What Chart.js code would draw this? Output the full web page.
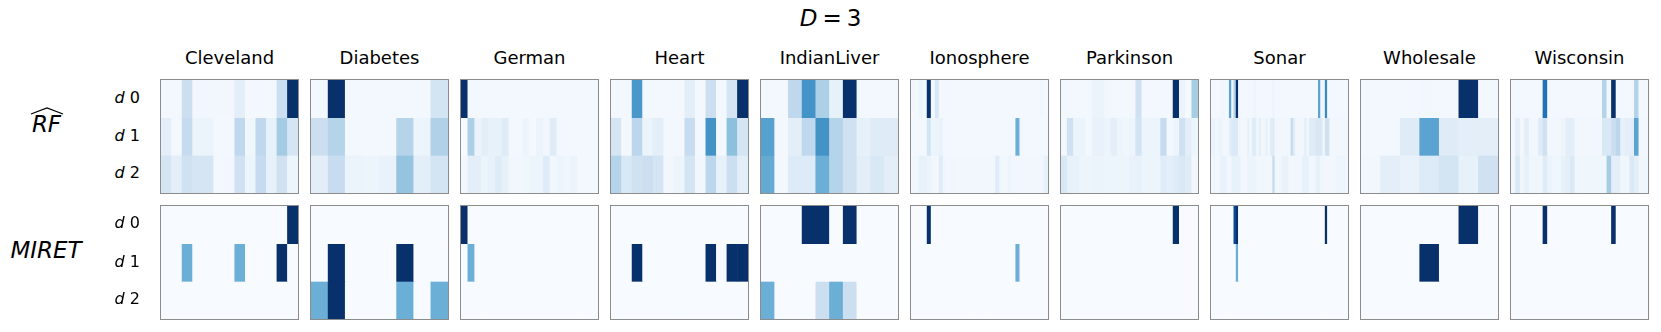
<!DOCTYPE html>
<html><head><meta charset="utf-8">
<script src="https://cdn.jsdelivr.net/npm/chart.js@4.4.0/dist/chart.umd.min.js"></script>
<style>
html,body{margin:0;padding:0;background:#fff}
body{width:1661px;height:332px;position:relative;overflow:hidden;font-family:"DejaVu Sans",sans-serif;color:#000}
.t{position:absolute;white-space:nowrap;line-height:1}
.frame{position:absolute;box-sizing:border-box;border:1.5px solid #8c8c8c;pointer-events:none}
canvas{position:absolute;display:block}
</style></head><body>
<script>
// ---------------- data ----------------
const figTitle = 'D = 3';
const datasetNames = ['Cleveland','Diabetes','German','Heart','IndianLiver','Ionosphere','Parkinson','Sonar','Wholesale','Wisconsin'];
const methodNames = ['RF', 'MIRET'];
const rowLabels = ['0','1','2'];   // depth d 0, d 1, d 2

// rows: [d0, d1, d2]; values 0..1 (Blues colour scale)
const clevelandRF = [
  [0.02,0.02,0.22,0.03,0.03,0.03,0.03,0.10,0.02,0.02,0.02,0.22,1.00],
  [0.10,0.02,0.25,0.06,0.06,0.02,0.02,0.27,0.04,0.27,0.08,0.36,0.17],
  [0.17,0.10,0.20,0.17,0.17,0.02,0.03,0.20,0.05,0.25,0.08,0.20,0.05]];
const clevelandMIRET = [
  [0,0,0,0,0,0,0,0,0,0,0,0,1],
  [0,0,0.5,0,0,0,0,0.5,0,0,0,1,0],
  [0,0,0,0,0,0,0,0,0,0,0,0,0]];

const diabetesRF = [
  [0.02,1.00,0.02,0.02,0.02,0.02,0.02,0.18],
  [0.22,0.30,0.02,0.02,0.02,0.30,0.05,0.32],
  [0.10,0.24,0.06,0.05,0.07,0.40,0.10,0.18]];
const diabetesMIRET = [
  [0,0,0,0,0,0,0,0],
  [0,1,0,0,0,1,0,0],
  [0.5,1,0,0,0,0.5,0,0.5]];

const germanRF = [
  [1.00,0.02,0.02,0.02,0.02,0.02,0.02,0.02,0.02,0.02,0.02,0.02,0.02,0.02,0.02,0.02,0.02,0.02,0.02,0.02],
  [0.00,0.33,0.06,0.10,0.08,0.08,0.12,0.02,0.02,0.05,0.02,0.06,0.03,0.12,0.02,0.02,0.02,0.02,0.02,0.02],
  [0.03,0.10,0.10,0.06,0.08,0.12,0.08,0.03,0.03,0.04,0.05,0.05,0.12,0.03,0.05,0.04,0.06,0.02,0.02,0.02]];
const germanMIRET = [
  [1,0,0,0,0,0,0,0,0,0,0,0,0,0,0,0,0,0,0,0],
  [0,0.5,0,0,0,0,0,0,0,0,0,0,0,0,0,0,0,0,0,0],
  [0,0,0,0,0,0,0,0,0,0,0,0,0,0,0,0,0,0,0,0]];

const heartRF = [
  [0.02,0.02,0.60,0.02,0.02,0.02,0.02,0.10,0.02,0.22,0.02,0.17,1.00],
  [0.17,0.02,0.28,0.06,0.10,0.02,0.02,0.24,0.02,0.62,0.02,0.42,0.17],
  [0.30,0.15,0.20,0.22,0.18,0.03,0.05,0.18,0.03,0.28,0.08,0.22,0.10]];
const heartMIRET = [
  [0,0,0,0,0,0,0,0,0,0,0,0,0],
  [0,0,1,0,0,0,0,0,0,1,0,1,1],
  [0,0,0,0,0,0,0,0,0,0,0,0,0]];

const indianLiverRF = [
  [0.02,0.02,0.27,0.62,0.33,0.08,1.00,0.02,0.02,0.02],
  [0.56,0.02,0.10,0.27,0.62,0.30,0.20,0.08,0.12,0.12],
  [0.52,0.02,0.13,0.13,0.50,0.30,0.20,0.10,0.15,0.10]];
const indianLiverMIRET = [
  [0,0,0,1,1,0,1,0,0,0],
  [0,0,0,0,0,0,0,0,0,0],
  [0.5,0,0,0,0.22,0.5,0.22,0,0,0]];

const ionosphereRF = [
  [0.02,0.02,0.06,0.02,1.00,0.02,0.15,0.02,0.02,0.02,0.02,0.02,0.02,0.02,0.02,0.02,0.02,0.02,0.02,0.02,0.02,0.02,0.02,0.02,0.02,0.02,0.02,0.02,0.02,0.02,0.02,0.02,0.04,0.02],
  [0.02,0.02,0.02,0.02,0.18,0.05,0.06,0.07,0.02,0.02,0.02,0.02,0.02,0.02,0.02,0.02,0.02,0.02,0.02,0.02,0.02,0.02,0.02,0.02,0.02,0.02,0.50,0.03,0.02,0.02,0.02,0.02,0.02,0.02],
  [0.03,0.04,0.08,0.08,0.06,0.03,0.03,0.12,0.04,0.03,0.04,0.03,0.03,0.03,0.03,0.03,0.03,0.03,0.03,0.03,0.03,0.12,0.04,0.03,0.05,0.03,0.03,0.03,0.03,0.03,0.03,0.03,0.03,0.08]];
const ionosphereMIRET = [
  [0,0,0,0,1,0,0,0,0,0,0,0,0,0,0,0,0,0,0,0,0,0,0,0,0,0,0,0,0,0,0,0,0,0],
  [0,0,0,0,0,0,0,0,0,0,0,0,0,0,0,0,0,0,0,0,0,0,0,0,0,0,0.5,0,0,0,0,0,0,0],
  [0,0,0,0,0,0,0,0,0,0,0,0,0,0,0,0,0,0,0,0,0,0,0,0,0,0,0,0,0,0,0,0,0,0]];

const parkinsonRF = [
  [0.02,0.02,0.02,0.02,0.02,0.06,0.06,0.03,0.02,0.02,0.02,0.02,0.20,0.02,0.02,0.02,0.02,0.02,1.00,0.06,0.01,0.35],
  [0.02,0.20,0.06,0.06,0.02,0.07,0.07,0.05,0.10,0.05,0.04,0.05,0.18,0.05,0.05,0.05,0.25,0.02,0.05,0.20,0.10,0.05],
  [0.15,0.08,0.08,0.05,0.05,0.06,0.06,0.05,0.05,0.05,0.05,0.07,0.08,0.05,0.05,0.05,0.12,0.10,0.12,0.15,0.12,0.03]];
const parkinsonMIRET = [
  [0,0,0,0,0,0,0,0,0,0,0,0,0,0,0,0,0,0,1,0,0,0],
  [0,0,0,0,0,0,0,0,0,0,0,0,0,0,0,0,0,0,0,0,0,0],
  [0,0,0,0,0,0,0,0,0,0,0,0,0,0,0,0,0,0,0,0,0,0]];

const sonarRF = [
  [0.02,0.02,0.02,0.02,0.03,0.04,0.02,0.02,0.55,0.03,0.30,1.00,0.03,0.02,0.02,0.02,0.02,0.02,0.03,0.05,
   0.02,0.02,0.02,0.02,0.02,0.02,0.02,0.05,0.02,0.02,0.02,0.02,0.02,0.02,0.02,0.02,0.02,0.02,0.02,0.02,
   0.02,0.02,0.02,0.02,0.02,0.02,0.03,0.55,0.03,0.04,0.65,0.03,0.02,0.02,0.02,0.02,0.02,0.02,0.02,0.02],
  [0.06,0.06,0.03,0.05,0.05,0.03,0.03,0.03,0.10,0.14,0.14,0.14,0.03,0.03,0.03,0.03,0.08,0.03,0.12,0.12,
   0.03,0.10,0.03,0.03,0.08,0.03,0.12,0.12,0.03,0.03,0.03,0.03,0.03,0.03,0.03,0.25,0.12,0.03,0.03,0.03,
   0.03,0.10,0.03,0.12,0.12,0.12,0.15,0.15,0.15,0.03,0.20,0.20,0.03,0.03,0.03,0.03,0.03,0.03,0.03,0.03],
  [0.03,0.05,0.03,0.03,0.07,0.07,0.07,0.03,0.03,0.08,0.08,0.08,0.08,0.03,0.03,0.03,0.06,0.06,0.06,0.06,
   0.03,0.03,0.03,0.03,0.03,0.03,0.03,0.25,0.03,0.03,0.03,0.07,0.07,0.07,0.03,0.03,0.03,0.03,0.03,0.03,
   0.08,0.08,0.08,0.03,0.03,0.03,0.08,0.08,0.03,0.03,0.03,0.03,0.03,0.03,0.03,0.05,0.05,0.05,0.05,0.03]];
const sonarMIRET = [
  [0,0,0,0,0,0,0,0,0,0,0.9,1,0,0,0,0,0,0,0,0,0,0,0,0,0,0,0,0,0,0,0,0,0,0,0,0,0,0,0,0,0,0,0,0,0,0,0,0,0,0,1,0,0,0,0,0,0,0,0,0],
  [0,0,0,0,0,0,0,0,0,0,0,0.5,0,0,0,0,0,0,0,0,0,0,0,0,0,0,0,0,0,0,0,0,0,0,0,0,0,0,0,0,0,0,0,0,0,0,0,0,0,0,0,0,0,0,0,0,0,0,0,0],
  [0,0,0,0,0,0,0,0,0,0,0,0,0,0,0,0,0,0,0,0,0,0,0,0,0,0,0,0,0,0,0,0,0,0,0,0,0,0,0,0,0,0,0,0,0,0,0,0,0,0,0,0,0,0,0,0,0,0,0,0]];

const wholesaleRF = [
  [0.02,0.02,0.02,0.03,0.02,1.00,0.02],
  [0.02,0.02,0.12,0.55,0.12,0.10,0.10],
  [0.03,0.10,0.07,0.13,0.18,0.08,0.20]];
const wholesaleMIRET = [
  [0,0,0,0,0,1,0],
  [0,0,0,1,0,0,0],
  [0,0,0,0,0,0,0]];

const wisconsinRF = [
  [0.02,0.02,0.02,0.02,0.02,0.02,0.02,0.75,0.02,0.02,0.02,0.02,0.02,0.02,0.02,0.02,0.02,0.02,0.02,0.02,0.30,0.02,1.00,0.02,0.02,0.02,0.02,0.30,0.02,0.02],
  [0.03,0.10,0.03,0.10,0.03,0.03,0.12,0.20,0.03,0.03,0.03,0.05,0.10,0.10,0.03,0.03,0.03,0.03,0.03,0.03,0.15,0.15,0.22,0.28,0.08,0.10,0.10,0.55,0.03,0.03],
  [0.04,0.15,0.04,0.08,0.04,0.04,0.04,0.12,0.06,0.04,0.04,0.08,0.10,0.14,0.04,0.04,0.04,0.04,0.04,0.04,0.04,0.35,0.10,0.10,0.04,0.04,0.14,0.10,0.04,0.04]];
const wisconsinMIRET = [
  [0,0,0,0,0,0,0,1,0,0,0,0,0,0,0,0,0,0,0,0,0,0,1,0,0,0,0,0,0,0],
  [0,0,0,0,0,0,0,0,0,0,0,0,0,0,0,0,0,0,0,0,0,0,0,0,0,0,0,0,0,0],
  [0,0,0,0,0,0,0,0,0,0,0,0,0,0,0,0,0,0,0,0,0,0,0,0,0,0,0,0,0,0]];

const rfPanels = [clevelandRF, diabetesRF, germanRF, heartRF, indianLiverRF, ionosphereRF, parkinsonRF, sonarRF, wholesaleRF, wisconsinRF];
const miretPanels = [clevelandMIRET, diabetesMIRET, germanMIRET, heartMIRET, indianLiverMIRET, ionosphereMIRET, parkinsonMIRET, sonarMIRET, wholesaleMIRET, wisconsinMIRET];

// ---------------- colour scale (matplotlib Blues) ----------------
const bluesStops = ['#f7fbff','#deebf7','#c6dbef','#9ecae1','#6baed6','#4292c6','#2171b5','#08519c','#08306b'];
function hex2rgb(h){return [parseInt(h.slice(1,3),16),parseInt(h.slice(3,5),16),parseInt(h.slice(5,7),16)];}
const bluesRGB = bluesStops.map(hex2rgb);
function blues(v){
  v = Math.max(0, Math.min(1, v));
  const p = v * 8, i = Math.min(7, Math.floor(p)), f = p - i;
  const a = bluesRGB[i], b = bluesRGB[i+1];
  return 'rgb(' + a.map((c,k)=>Math.round(c + (b[k]-c)*f)).join(',') + ')';
}

// ---------------- layout ----------------
const PANEL_X0 = 160, PANEL_STEP = 150, PANEL_W = 139, PANEL_H = 115;
const ROW_TOPS = [79, 205];

function addText(html, x, baseline, fs, align, extra){
  const d = document.createElement('div');
  d.className = 't';
  d.innerHTML = html;
  d.style.fontSize = fs + 'px';
  d.style.left = x + 'px';
  d.style.top = (baseline - 0.846*fs) + 'px';
  if (align === 'center') d.style.transform = 'translateX(-50%)';
  else if (align === 'right') d.style.transform = 'translateX(-100%)';
  if (extra) Object.assign(d.style, extra);
  document.body.appendChild(d);
  return d;
}

function makePanel(vals, left, top){
  const cv = document.createElement('canvas');
  const w = PANEL_W - 2, h = PANEL_H - 2;
  cv.width = w; cv.height = h;
  cv.style.left = (left + 1) + 'px'; cv.style.top = (top + 1) + 'px';
  cv.style.width = w + 'px'; cv.style.height = h + 'px';
  document.body.appendChild(cv);
  const labels = vals[0].map((_, k) => 'f' + k);
  new Chart(cv, {
    type: 'bar',
    data: {
      labels,
      datasets: vals.map((row, r) => ({
        label: 'd ' + rowLabels[r],
        data: row.map(() => [2 - r, 3 - r]),
        backgroundColor: row.map(blues),
        borderWidth: 0,
        categoryPercentage: 1,
        barPercentage: 1
      }))
    },
    options: {
      responsive: false, animation: false, devicePixelRatio: 1,
      layout: { padding: 0 },
      plugins: { legend: { display: false }, tooltip: { enabled: false }, title: { display: false } },
      scales: {
        x: { display: false, stacked: true },
        y: { display: false, min: 0, max: 3 }
      }
    }
  });
  const fr = document.createElement('div');
  fr.className = 'frame';
  fr.style.left = left + 'px'; fr.style.top = top + 'px';
  fr.style.width = PANEL_W + 'px'; fr.style.height = PANEL_H + 'px';
  document.body.appendChild(fr);
}

// title
addText('<i>D</i><span style="margin:0 5px">=</span>3', 830.5, 26, 23, 'center');

datasetNames.forEach((name, i) => {
  const left = PANEL_X0 + PANEL_STEP * i;
  addText(name, left + PANEL_W/2, 64.3, 18, 'center');
  makePanel(rfPanels[i], left, ROW_TOPS[0]);
  makePanel(miretPanels[i], left, ROW_TOPS[1]);
});

// row labels
[[104,141.7,179],[229,267.7,305]].forEach(bs => {
  bs.forEach((b, r) => addText('<i>d</i>&nbsp;' + rowLabels[r], 140, b, 16, 'right'));
});

// method labels
addText('<i>' + methodNames[0] + '</i>', 46.5, 132, 23, 'center');
addText('<i>' + methodNames[1] + '</i>', 46, 258, 23, 'center');
// wide hat over RF
const svgNS = 'http://www.w3.org/2000/svg';
const svg = document.createElementNS(svgNS, 'svg');
svg.setAttribute('width', 36); svg.setAttribute('height', 10);
svg.style.position = 'absolute'; svg.style.left = '29px'; svg.style.top = '106px';
const pl = document.createElementNS(svgNS, 'polyline');
pl.setAttribute('points', '2,8 18,2 34,8');
pl.setAttribute('fill', 'none'); pl.setAttribute('stroke', '#000'); pl.setAttribute('stroke-width', '1.3');
svg.appendChild(pl);
document.body.appendChild(svg);
</script>
</body></html>
